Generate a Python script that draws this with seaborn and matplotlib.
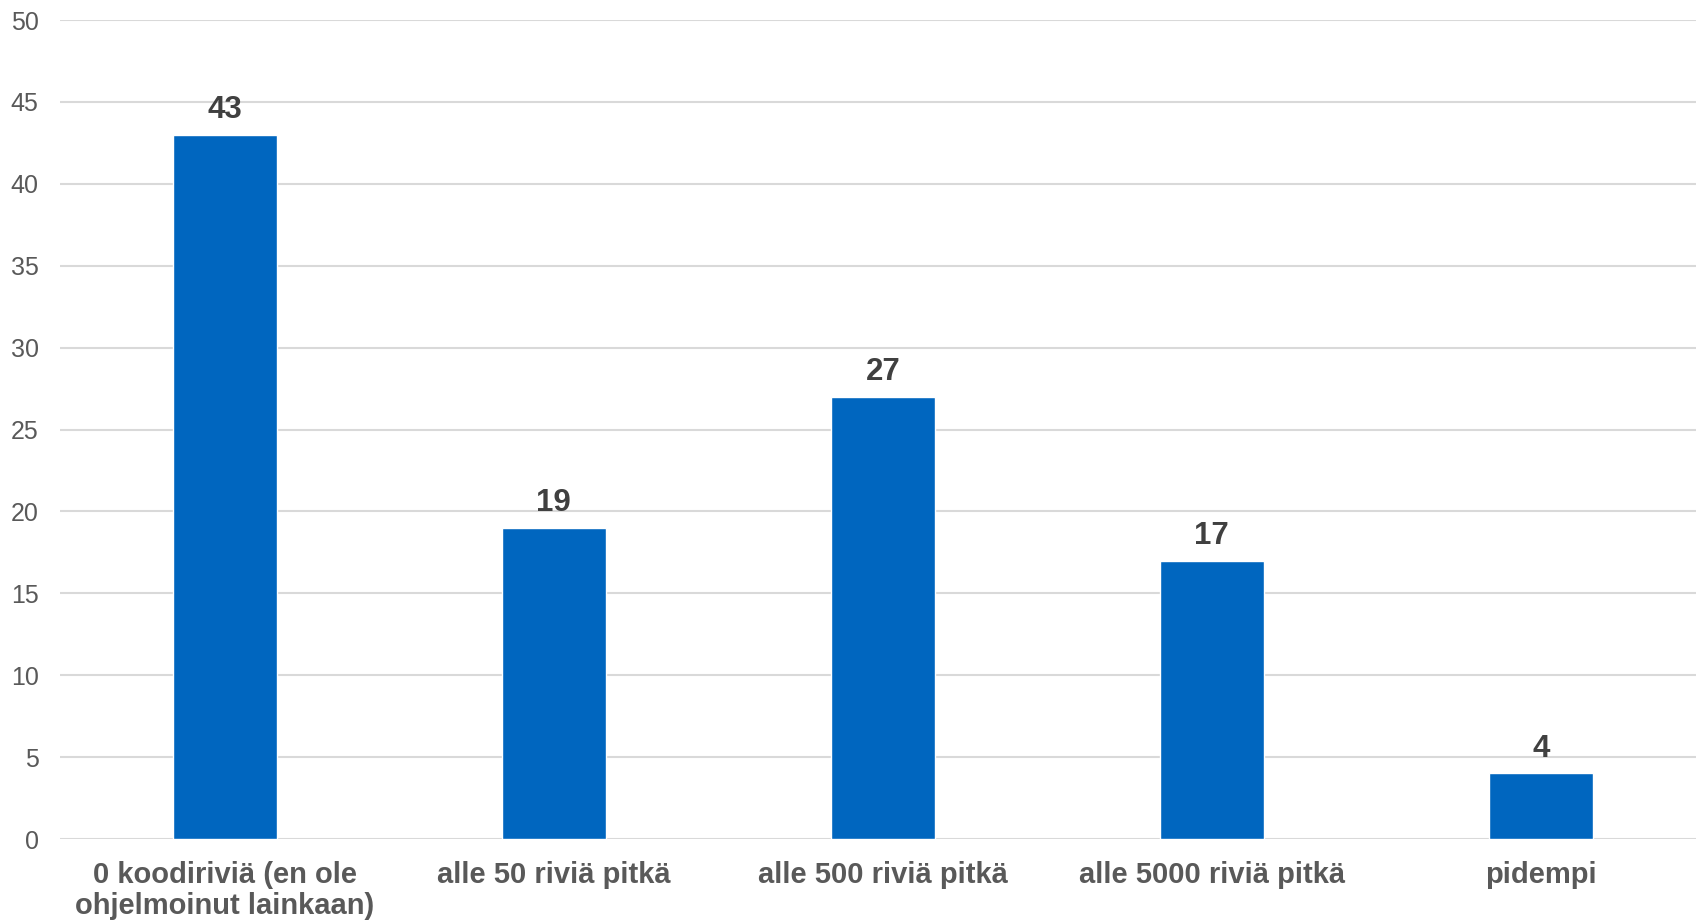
import matplotlib
matplotlib.use("Agg")
import matplotlib.pyplot as plt
import seaborn as sns
import pandas as pd

categories = [
    "0 koodiriviä (en ole\nohjelmoinut lainkaan)",
    "alle 50 riviä pitkä",
    "alle 500 riviä pitkä",
    "alle 5000 riviä pitkä",
    "pidempi",
]
counts = [43, 19, 27, 17, 4]
y_ticks = [0, 5, 10, 15, 20, 25, 30, 35, 40, 45, 50]

sns.set_theme(style="white")
plt.rcParams["font.family"] = ["Liberation Sans", "DejaVu Sans"]

df = pd.DataFrame({"kategoria": categories, "lukumäärä": counts})

fig = plt.figure(figsize=(16.96, 9.22), dpi=100)
ax = fig.add_axes([0.0355, 0.090, 0.970, 0.8883])

sns.barplot(data=df, x="kategoria", y="lukumäärä", color="#0066BF",
            saturation=1, width=0.316, ax=ax, zorder=3)

ax.set_ylim(0, 50)
ax.set_yticks(y_ticks)
ax.yaxis.grid(True, color="#D9D9D9", linewidth=1.5, zorder=0)
ax.set_axisbelow(True)
for side in ["top", "right", "left", "bottom"]:
    ax.spines[side].set_visible(False)

ax.set_xlabel("")
ax.set_ylabel("")
ax.tick_params(axis="y", length=0, pad=15.5, labelsize=18, labelcolor="#595959")
ax.tick_params(axis="x", length=0, pad=16, labelsize=21, labelcolor="#595959")
for lbl in ax.get_xticklabels():
    lbl.set_fontweight("bold")
    lbl.set_linespacing(1.13)

for container in ax.containers:
    ax.bar_label(container, labels=[str(v) for v in counts], padding=7,
                 fontsize=22.5, fontweight="bold", color="#404040")

fig.savefig("out.png", dpi=100)
